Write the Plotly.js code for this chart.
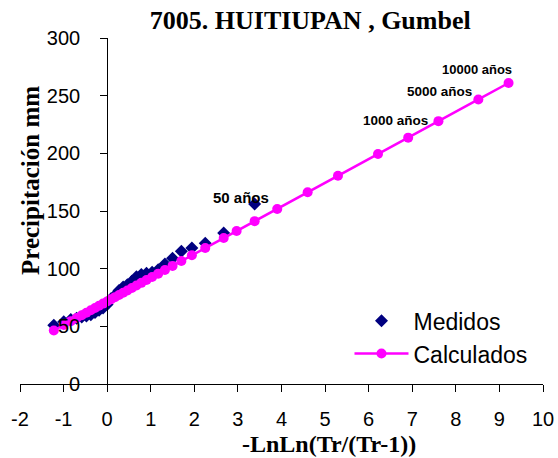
<!DOCTYPE html>
<html><head><meta charset="utf-8">
<script src="https://cdn.plot.ly/plotly-3.0.1.min.js"></script>
<style>html,body{margin:0;padding:0;background:#fff}#chart{width:558px;height:458px}</style>
</head><body><div id="chart"></div>
<script>
// Measured (plotting positions) values
const measuredX = [-1.224,-0.996,-0.834,-0.701,-0.583,-0.476,-0.375,-0.279,-0.186,-0.094,-0.003,0.087,0.179,0.272,0.367,0.464,0.566,0.672,0.784,0.903,1.031,1.170,1.325,1.500,1.702,1.944,2.250,2.674,3.384];
const measuredY = [51,54,56,57,58,59,60,62,64,66,69,74,77,81,84,86,89,93,95,96,97,99,104,109,115,118,122,131,156];
// Calculated (Gumbel fit) values
const calcX = [-1.224,-0.996,-0.834,-0.701,-0.583,-0.476,-0.375,-0.279,-0.186,-0.094,-0.003,0.087,0.179,0.272,0.367,0.464,0.566,0.672,0.784,0.903,1.031,1.170,1.325,1.500,1.702,1.944,2.250,2.674,2.970,3.384,3.902,4.600,5.296,6.214,6.907,7.601,8.517,9.210];
const calcY = [46.4,51.1,54.5,57.2,59.6,61.8,63.9,65.9,67.8,69.7,71.5,73.4,75.3,77.2,79.1,81.1,83.2,85.4,87.7,90.2,92.8,95.7,98.8,102.4,106.6,111.6,117.9,126.6,132.7,141.2,151.8,166.2,180.5,199.4,213.6,227.9,246.7,261.0];
const seriesNames = ["Medidos","Calculados"];
const periodLabels = ["50 años","1000 años","5000 años","10000 años"];
const xTicks = [-2,-1,0,1,2,3,4,5,6,7,8,9,10];
const xTickLabels = ["-2","-1","0","1","2","3","4","5","6","7","8","9","10"];
const yTicks = [0,50,100,150,200,250,300];
const yTickLabels = ["0","50","100","150","200","250","300"];
const titleText = "7005. HUITIUPAN , Gumbel";
const xTitle = "-LnLn(Tr/(Tr-1))";
const yTitle = "Precipitación mm";

const sans = "Liberation Sans, Arial, sans-serif";
const serif = "Liberation Serif, Times New Roman, serif";

const traces = [
  {x: measuredX, y: measuredY, name: seriesNames[0], type: 'scatter', mode: 'markers',
   legendgroup: 'm',
   marker: {symbol: 'diamond', size: 10, color: '#000080'}},
  {x: calcX, y: calcY, name: seriesNames[1], type: 'scatter', mode: 'lines+markers',
   legendgroup: 'c',
   line: {color: '#FF00FF', width: 2.5},
   marker: {symbol: 'circle', size: 10, color: '#FF00FF'}}
];

const labelPos = [[3.06,161.3,15],[6.62,228.9,13.5],[7.63,253.2,13.5],[8.48,272.3,13]];
const annotations = periodLabels.map((t,i)=>({
  text: t, x: labelPos[i][0], y: labelPos[i][1], xref: 'x', yref: 'y', showarrow: false,
  xanchor: 'center', yanchor: 'middle',
  font: {family: sans, size: labelPos[i][2], color: '#000', weight: 'bold'}
}));
// axis titles
annotations.push({text: xTitle, xref: 'paper', yref: 'paper', x: (328.5-20)/523, y: -(444-384)/346,
  xanchor: 'center', yanchor: 'middle', showarrow: false,
  font: {family: serif, size: 24, color: '#000', weight: 'bold'}});
annotations.push({text: yTitle, xref: 'paper', yref: 'paper', x: (30-20)/523, y: (384-181)/346,
  xanchor: 'center', yanchor: 'middle', showarrow: false, textangle: -90,
  font: {family: serif, size: 25, color: '#000', weight: 'bold'}});

const layout = {
  width: 558, height: 458,
  margin: {l: 20, r: 15, t: 38, b: 74},
  paper_bgcolor: '#fff', plot_bgcolor: '#fff',
  title: {text: titleText, font: {family: serif, size: 26, color: '#000', weight: 'bold'},
          x: 0.556, xref: 'container', xanchor: 'center', y: 0.957, yref: 'container', yanchor: 'middle'},
  xaxis: {range: [-2, 10], tickvals: xTicks, ticktext: xTickLabels, ticks: 'outside', ticklen: 7, tickwidth: 1, tickcolor: '#000',
          showline: true, linecolor: '#000', linewidth: 1, showgrid: false, zeroline: false,
          tickfont: {family: sans, size: 20, color: '#000'}, ticklabelstandoff: 10, fixedrange: true},
  yaxis: {range: [0, 300], tickvals: yTicks, ticktext: yTickLabels, anchor: 'free', position: 2/12, ticks: 'outside', ticklen: 7,
          tickwidth: 1, tickcolor: '#000', showline: true, linecolor: '#000', linewidth: 1,
          showgrid: false, zeroline: false, tickfont: {family: sans, size: 20, color: '#000'},
          ticklabelstandoff: 16, fixedrange: true},
  showlegend: true,
  legend: {x: 0.63, y: 0.245, xanchor: 'left', yanchor: 'top', traceorder: 'grouped', tracegroupgap: 0,
           itemwidth: 54, bgcolor: 'rgba(0,0,0,0)', font: {family: sans, size: 23, color: '#000'}},
  annotations: annotations
};

Plotly.newPlot('chart', traces, layout, {displayModeBar: false, staticPlot: true});
</script>
</body></html>
